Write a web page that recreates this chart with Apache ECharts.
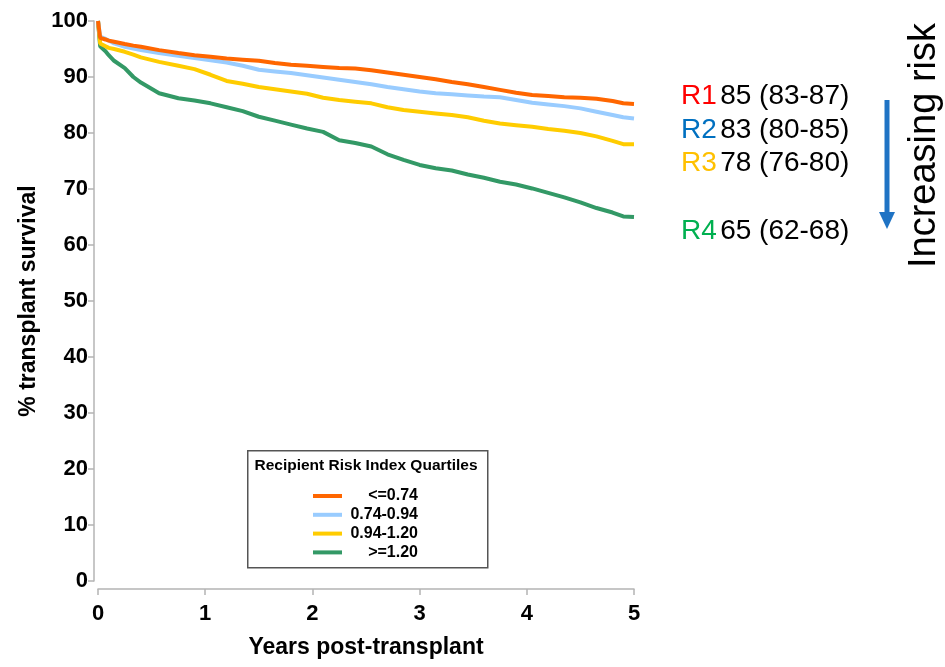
<!DOCTYPE html>
<html>
<head>
<meta charset="utf-8">
<script src="https://cdn.jsdelivr.net/npm/echarts@6/dist/echarts.min.js"></script>
<style>
  html, body { margin: 0; padding: 0; background: #fff; }
  #chart { width: 945px; height: 667px; }
</style>
</head>
<body>
<div id="chart"></div>
<script>
// Follow-up times (years post-transplant)
const years = [0, 0.02, 0.07, 0.1, 0.15, 0.25, 0.33, 0.4, 0.57, 0.75, 0.9, 1.05, 1.2, 1.35, 1.5, 1.65, 1.8, 1.95, 2.1,
  2.25, 2.4, 2.55, 2.7, 2.85, 3.0, 3.15, 3.3, 3.45, 3.6, 3.75, 3.9, 4.05, 4.2, 4.35, 4.5, 4.65, 4.8, 4.9, 5.0];

// Kaplan-Meier transplant survival (%) by recipient risk index quartile
const survR1 = [100, 97.0, 96.7, 96.5, 96.3, 95.9, 95.6, 95.4, 94.8, 94.3, 93.9, 93.6, 93.3, 93.1, 92.9, 92.5, 92.2, 92.0, 91.8,
  91.6, 91.5, 91.2, 90.8, 90.4, 90.0, 89.6, 89.1, 88.7, 88.2, 87.7, 87.2, 86.8, 86.6, 86.4, 86.3, 86.1, 85.7, 85.3, 85.2];
const survR2 = [100, 97.2, 96.8, 96.5, 96.0, 95.4, 95.1, 94.8, 94.3, 93.8, 93.4, 93.0, 92.6, 92.0, 91.3, 91.0, 90.7, 90.3, 89.9,
  89.5, 89.1, 88.7, 88.2, 87.8, 87.4, 87.1, 86.9, 86.7, 86.5, 86.4, 85.9, 85.4, 85.1, 84.8, 84.4, 83.8, 83.2, 82.8, 82.6];
const survR3 = [100, 96.0, 95.5, 95.2, 95.0, 94.5, 94.0, 93.5, 92.7, 92.0, 91.4, 90.4, 89.3, 88.8, 88.2, 87.8, 87.4, 87.0, 86.3,
  85.9, 85.6, 85.3, 84.6, 84.1, 83.8, 83.5, 83.2, 82.8, 82.2, 81.7, 81.4, 81.1, 80.7, 80.4, 80.0, 79.4, 78.6, 78.0, 78.0];
const survR4 = [100, 95.5, 94.6, 93.9, 92.9, 91.6, 90.0, 89.0, 87.1, 86.2, 85.8, 85.3, 84.6, 83.9, 82.9, 82.2, 81.5, 80.8, 80.2,
  78.7, 78.2, 77.6, 76.2, 75.2, 74.3, 73.7, 73.3, 72.6, 72.0, 71.3, 70.8, 70.1, 69.3, 68.5, 67.6, 66.6, 65.8, 65.1, 65.0];

// Quartile labels and 5-year survival estimates (95% CI)
const quartiles = ['<=0.74', '0.74-0.94', '0.94-1.20', '>=1.20'];
const riskGroups = ['R1', 'R2', 'R3', 'R4'];
const fiveYear = [85, 83, 78, 65];
const fiveYearCI = ['83-87', '80-85', '76-80', '62-68'];

// Axis ticks
const xTicks = [0, 1, 2, 3, 4, 5];
const yTicks = [0, 10, 20, 30, 40, 50, 60, 70, 80, 90, 100];

const lineColors = ['#FF6600', '#99CCFF', '#FFCC00', '#339966'];
const groupColors = ['#FF0000', '#0070C0', '#FFC000', '#00B050'];
const FONT = '"Liberation Sans", Arial, sans-serif';

const survival = [survR1, survR2, survR3, survR4];

const series = survival.map((vals, i) => ({
  name: quartiles[i],
  type: 'line',
  showSymbol: false,
  data: years.map((t, k) => [t, vals[k]]),
  lineStyle: { width: 4, color: lineColors[i] },
  itemStyle: { color: lineColors[i] },
  z: 2 + (3 - i)
}));

// 5-year estimates listed to the right of the plot
const rowY = [96, 130, 163, 231];
const groupText = riskGroups.map((g, i) => ({
  type: 'text',
  x: 681,
  y: rowY[i],
  z: 10,
  style: {
    text: '{g|' + g + '} {v|' + fiveYear[i] + ' (' + fiveYearCI[i] + ')}',
    verticalAlign: 'middle',
    rich: {
      g: { fontFamily: FONT, fontSize: 28, fill: groupColors[i] },
      v: { fontFamily: FONT, fontSize: 28, fill: '#000' }
    }
  }
}));

const axisGrey = '#b4b4b4';

const chart = echarts.init(document.getElementById('chart'));
chart.setOption({
  animation: false,
  backgroundColor: '#fff',
  grid: { left: 98, right: 311, top: 21, bottom: 86, containLabel: false },
  xAxis: {
    type: 'value',
    min: xTicks[0],
    max: xTicks[xTicks.length - 1],
    interval: 1,
    offset: 8,
    name: 'Years post-transplant',
    nameLocation: 'middle',
    nameGap: 47,
    nameTextStyle: { fontFamily: FONT, fontSize: 23, fontWeight: 'bold', color: '#000' },
    axisLine: { show: true, onZero: false, lineStyle: { color: axisGrey, width: 1.5 } },
    axisTick: { show: true, length: 6, lineStyle: { color: axisGrey, width: 1.5 } },
    axisLabel: { fontFamily: FONT, fontSize: 22, fontWeight: 'bold', color: '#000', margin: 14 },
    splitLine: { show: false }
  },
  yAxis: {
    type: 'value',
    min: yTicks[0],
    max: yTicks[yTicks.length - 1],
    interval: 10,
    offset: 4,
    name: '% transplant survival',
    nameLocation: 'middle',
    nameGap: 50,
    nameRotate: 90,
    nameTextStyle: { fontFamily: FONT, fontSize: 23, fontWeight: 'bold', color: '#000' },
    axisLine: { show: true, onZero: false, lineStyle: { color: axisGrey, width: 1.5 } },
    axisTick: { show: true, length: 6, lineStyle: { color: axisGrey, width: 1.5 } },
    axisLabel: { fontFamily: FONT, fontSize: 22, fontWeight: 'bold', color: '#000', margin: 6 },
    splitLine: { show: false }
  },
  legend: {
    orient: 'vertical',
    left: 313,
    top: 488,
    itemWidth: 29,
    itemHeight: 4,
    itemGap: 2.8,
    icon: 'rect',
    padding: 0,
    data: quartiles,
    formatter: name => '{t|' + name + '}',
    textStyle: {
      rich: {
        t: { fontFamily: FONT, fontSize: 16, fontWeight: 'bold', color: '#000', width: 71, align: 'right' }
      }
    }
  },
  graphic: [
    {
      type: 'rect',
      left: 247, top: 450, z: 1,
      shape: { width: 240, height: 117 },
      style: { fill: '#fff', stroke: '#555', lineWidth: 1.5 }
    },
    {
      type: 'text',
      x: 366, y: 466, z: 3,
      style: {
        text: 'Recipient Risk Index Quartiles',
        fontFamily: FONT, fontSize: 15.5, fontWeight: 'bold', fill: '#000',
        align: 'center', verticalAlign: 'middle'
      }
    },
    // downward arrow beside the estimates
    {
      type: 'line', z: 10,
      shape: { x1: 887, y1: 100, x2: 887, y2: 214 },
      style: { stroke: '#1F73C4', lineWidth: 5 }
    },
    {
      type: 'polygon', z: 10,
      shape: { points: [[879, 212], [895, 212], [887, 229]] },
      style: { fill: '#1F73C4' }
    },
    {
      type: 'text', z: 10,
      x: 944, y: 268,
      rotation: Math.PI / 2,
      style: {
        text: 'Increasing risk',
        fontFamily: FONT, fontSize: 38, fill: '#000',
        align: 'left', verticalAlign: 'bottom'
      }
    }
  ].concat(groupText),
  series: series
});
</script>
</body>
</html>
